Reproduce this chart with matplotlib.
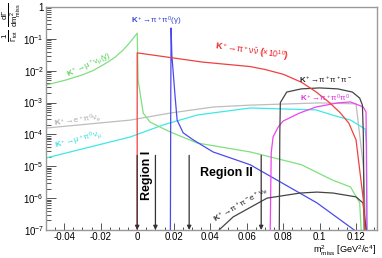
import matplotlib
matplotlib.use("Agg")
import matplotlib.pyplot as plt
from matplotlib.ticker import LogLocator, MultipleLocator, NullFormatter
import numpy as np

# missing mass squared [GeV^2/c^4] and log10 of the normalised spectrum
kmu2_x = [-0.05, -0.039, -0.03, -0.024, -0.017, -0.012, -0.0077, -0.005, -0.003, 0.0, 0.0005,
          0.0033, 0.007, 0.0137, 0.018, 0.033, 0.062, 0.09, 0.107, 0.117, 0.122, 0.123]
kmu2_y = [-2.45, -2.29, -2.13, -1.99, -1.76, -1.57, -1.35, -1.18, -1.04, -0.82, -2.29,
          -3.33, -3.61, -3.80, -3.92, -4.27, -4.55, -4.95, -5.43, -5.65, -6.15, -7.2]

pinn_x = [0.0, 0.0, 0.036, 0.062, 0.07, 0.08, 0.09, 0.098, 0.105, 0.111, 0.116, 0.120, 0.124, 0.125]
pinn_y = [-7.2, -1.44, -1.73, -1.87, -1.96, -2.11, -2.36, -2.66, -2.98, -3.30, -3.64, -4.17,
          -6.05, -7.2]

k2pi_x = [0.0182, 0.0184, 0.0186, 0.0190, 0.0208, 0.0219, 0.0252, 0.0307, 0.0416, 0.0619,
          0.0986, 0.1238]
k2pi_y = [-7.2, -3.0, -0.66, -1.5, -2.82, -3.55, -3.95, -4.17, -4.55, -4.95, -6.15, -7.2]

ke3_x = [-0.05, -0.0038, 0.018, 0.0416, 0.062, 0.10, 0.12, 0.124, 0.1255]
ke3_y = [-3.80, -3.55, -3.33, -3.14, -3.08, -3.01, -3.04, -5.0, -7.2]

kmu3_x = [-0.05, -0.0038, 0.0143, 0.033, 0.062, 0.098, 0.107, 0.117, 0.125, 0.1258, 0.126]
kmu3_y = [-4.74, -4.08, -3.70, -3.39, -3.17, -3.23, -3.39, -3.55, -3.83, -4.3, -7.2]

k3pi_x = [0.0779, 0.0782, 0.0785, 0.082, 0.09, 0.10, 0.11, 0.118, 0.122, 0.1235, 0.124, 0.1245]
k3pi_y = [-7.2, -4.0, -3.0, -2.67, -2.57, -2.54, -2.57, -2.67, -2.86, -3.08, -4.0, -7.2]

k3pi0_x = [0.0729, 0.0735, 0.0745, 0.0773, 0.080, 0.089, 0.098, 0.110, 0.117, 0.124, 0.1255, 0.126]
k3pi0_y = [-7.2, -4.58, -4.08, -3.77, -3.58, -3.33, -3.14, -3.01, -2.98, -3.14, -3.3, -7.2]

ke4_x = [0.0411, 0.0526, 0.0712, 0.0893, 0.0986, 0.1074, 0.120, 0.1238, 0.126]
ke4_y = [-7.2, -6.59, -6.0, -5.84, -5.81, -5.84, -5.96, -6.15, -7.2]

arrow_x = [0.0, 0.01, 0.0285, 0.068]

xticks = [-0.04, -0.02, 0, 0.02, 0.04, 0.06, 0.08, 0.1, 0.12]
xtick_labels = ["-0.04", "-0.02", "0", "0.02", "0.04", "0.06", "0.08", "0.1", "0.12"]
yticks = [1, 1e-1, 1e-2, 1e-3, 1e-4, 1e-5, 1e-6, 1e-7]
ytick_labels = ["1", "$10^{-1}$", "$10^{-2}$", "$10^{-3}$", "$10^{-4}$", "$10^{-5}$",
                "$10^{-6}$", "$10^{-7}$"]

plt.rcParams['font.family'] = ['Liberation Sans', 'DejaVu Sans']
plt.rcParams['mathtext.fontset'] = 'custom'
plt.rcParams['mathtext.rm'] = 'Liberation Sans'
plt.rcParams['mathtext.it'] = 'Liberation Sans'
plt.rcParams['mathtext.bf'] = 'Liberation Sans:bold'

fig = plt.figure(figsize=(3.82, 2.58), dpi=100)
ax = fig.add_axes([46 / 382, 1 - 230 / 258, 331 / 382, 223 / 258])

def curve(xs, ys, col):
    ax.plot(xs, 10.0 ** np.array(ys), color=col, lw=0.9)

curve(ke3_x, ke3_y, '#bdbdbd')
curve(kmu3_x, kmu3_y, '#3ee8e8')
curve(kmu2_x, kmu2_y, '#7fe07f')
curve(k2pi_x, k2pi_y, '#4a4af0')
curve(k3pi0_x, k3pi0_y, '#ee44ee')
curve(k3pi_x, k3pi_y, '#444444')
curve(ke4_x, ke4_y, '#444444')
curve(pinn_x, pinn_y, '#f04040')

for xa in arrow_x:
    ax.annotate('', xy=(xa, 1.0e-7), xytext=(xa, 2.2e-5),
                arrowprops=dict(arrowstyle='-|>', color='#333333', lw=0.9,
                                mutation_scale=6, shrinkA=0, shrinkB=0))

ax.text(0.0056, 10 ** -5.27, 'Region I', rotation=90, ha='center', va='center',
        fontsize=9, fontweight='bold')
ax.text(0.0345, 10 ** -5.21, 'Region II', ha='left', va='center',
        fontsize=9, fontweight='bold')

lab = dict(fontsize=5.8, fontweight='bold', ha='center', va='center')
ax.text(-0.026, 10 ** -1.82, r'K$^+\!\rightarrow\!\mu^+\nu_\mu(\gamma)$', color='#55cc55',
        rotation=25, **lab)
ax.text(0.0108, 10 ** -0.44, r'K$^+\!\rightarrow\!\pi^+\pi^0(\gamma)$', color='#3344dd', **lab)
ax.text(0.0630, 10 ** -1.40, r'K$^+\!\rightarrow\!\pi^+\nu\bar{\nu}$ ($\times10^{10}$)',
        color='#ee2222', rotation=-8, fontsize=6.3, fontweight='bold', ha='center',
        va='center')
ax.text(0.1036, 10 ** -2.29, r'K$^+\!\rightarrow\!\pi^+\pi^+\pi^-$', color='#222222', **lab)
ax.text(0.1030, 10 ** -2.88, r'K$^+\!\rightarrow\!\pi^+\pi^0\pi^0$', color='#dd33dd', **lab)
ax.text(-0.0325, 10 ** -3.55, r'K$^+\!\rightarrow\!e^+\pi^0\nu_e$', color='#aaaaaa',
        rotation=8, **lab)
ax.text(-0.0325, 10 ** -4.18, r'K$^+\!\rightarrow\!\mu^+\pi^0\nu_\mu$', color='#33dddd',
        rotation=15, **lab)
ax.text(0.0565, 10 ** -6.2, r'K$^+\!\rightarrow\!\pi^+\pi^-e^+\nu_e$', color='#222222',
        rotation=30, **lab)

ax.set_yscale('log')
ax.set_xlim(-0.05, 0.1315)
ax.set_ylim(1e-7, 1)
ax.set_xticks(xticks)
ax.set_xticklabels(xtick_labels)
ax.xaxis.set_minor_locator(MultipleLocator(0.005))
ax.set_yticks(yticks)
ax.set_yticklabels(ytick_labels)
ax.yaxis.set_minor_locator(LogLocator(base=10, subs=np.arange(2, 10), numticks=20))
ax.yaxis.set_minor_formatter(NullFormatter())
ax.tick_params(which='both', direction='in', top=False, right=False, labelsize=7,
               color='#555555', width=0.7, pad=1.5)
ax.tick_params(axis='y', which='major', length=7)
ax.tick_params(axis='y', which='minor', length=3.5)
ax.tick_params(axis='x', which='major', length=5)
ax.tick_params(axis='x', which='minor', length=2.5)
for sp in ax.spines.values():
    sp.set_color('#999999')
    sp.set_linewidth(1.0)

fig.text(376 / 382, 1 - 251 / 258, r'm$^2_{\rm miss}$ [GeV$^2$/c$^4$]', ha='right',
         va='center', fontsize=6.6)
fig.text(12 / 382, 1 - 3 / 258,
         r'$\frac{1}{\Gamma_{tot}}\ \frac{d\Gamma}{dm^2_{miss}}$', rotation=90,
         ha='center', va='top', fontsize=8)

fig.savefig('out.png', dpi=100)
